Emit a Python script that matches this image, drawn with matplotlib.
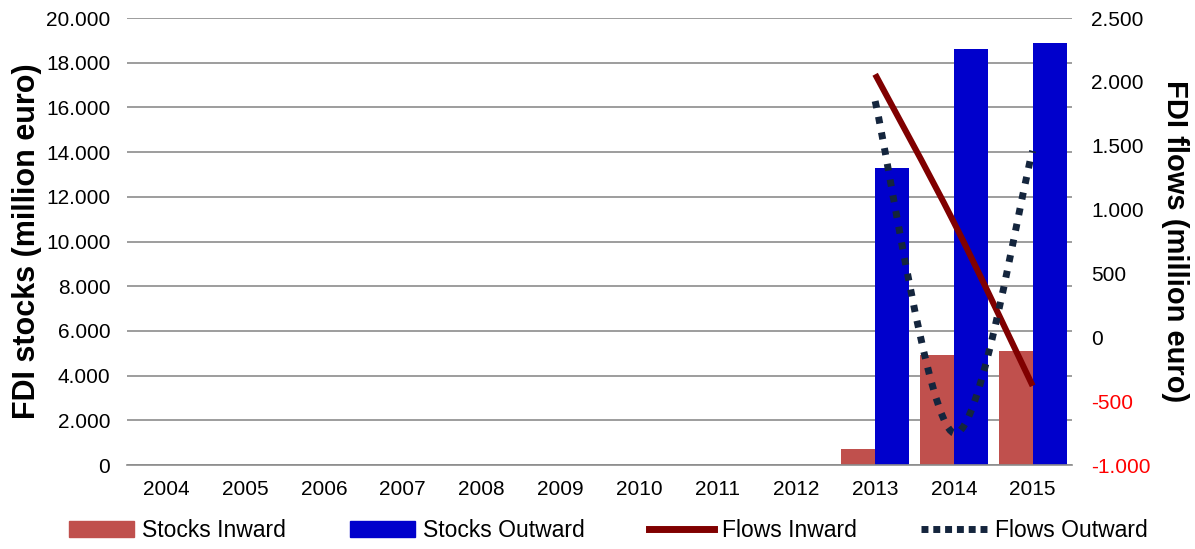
import matplotlib
matplotlib.use("Agg")
import matplotlib.pyplot as plt
from matplotlib.ticker import FuncFormatter
from matplotlib.patches import Patch, PathPatch
from matplotlib.path import Path
from matplotlib.lines import Line2D
import numpy as np

plt.rcParams['font.family'] = ['Liberation Sans', 'DejaVu Sans']

# data (million euro)
years = ['2004', '2005', '2006', '2007', '2008', '2009', '2010',
         '2011', '2012', '2013', '2014', '2015']
stocks_inward = [0, 0, 0, 0, 0, 0, 0, 0, 0, 720, 4920, 5100]
stocks_outward = [0, 0, 0, 0, 0, 0, 0, 0, 0, 13300, 18610, 18880]
flow_years = ['2013', '2014', '2015']
flows_inward = [2060, 900, -380]
flows_outward = [1850, -750, 1460]


def dotfmt(v, pos):
    return '{:,.0f}'.format(v).replace(',', '.')


def smooth_path(xs, ys):
    # spreadsheet-style smoothed line: cubic bezier through the points
    p = np.column_stack([xs, ys]).astype(float)
    n = len(p)
    verts = [p[0]]
    codes = [Path.MOVETO]
    for i in range(n - 1):
        a = p[i - 1] if i > 0 else p[i]
        d = p[i + 2] if i + 2 < n else p[i + 1]
        c1 = p[i] + (p[i + 1] - a) / 6.0
        c2 = p[i + 1] - (d - p[i]) / 6.0
        verts += [c1, c2, p[i + 1]]
        codes += [Path.CURVE4] * 3
    return Path(verts, codes)


fig = plt.figure(figsize=(11.95, 5.49), dpi=100)
ax = fig.add_axes([0.1063, 0.153, 0.7908, 0.814])

x = np.arange(len(years))
w = 0.43
ax.bar(x - w / 2, stocks_inward, w, color='#C0504D', zorder=2)
ax.bar(x + w / 2, stocks_outward, w, color='#0000CC', zorder=2)

ax.set_xlim(-0.5, len(years) - 0.5)
ax.set_ylim(0, 20000)
ax.set_yticks(np.arange(0, 20001, 2000))
ax.yaxis.set_major_formatter(FuncFormatter(dotfmt))
ax.set_xticks(x)
ax.set_xticklabels(years)
ax.grid(axis='y', color='#8C8C8C', lw=1.2, zorder=0)
for s in ['top', 'left', 'right']:
    ax.spines[s].set_visible(False)
ax.spines['bottom'].set_color('#8C8C8C')
ax.spines['bottom'].set_linewidth(1.2)
ax.tick_params(axis='both', length=0, labelsize=15)
ax.tick_params(axis='y', pad=12)
ax.tick_params(axis='x', pad=11)
ax.set_ylabel('FDI stocks (million euro)', fontsize=22, fontweight='bold', va='center')
ax.yaxis.set_label_coords(-0.106, 0.5)

ax2 = ax.twinx()
fx = [years.index(y) for y in flow_years]
ax2.add_patch(PathPatch(smooth_path(fx, flows_inward), fill=False,
                        edgecolor='#800000', lw=4.4, capstyle='butt', zorder=3))
ax2.add_patch(PathPatch(smooth_path(fx, flows_outward), fill=False,
                        edgecolor='#14253D', lw=5, linestyle=(0, (1.0, 1.3)),
                        capstyle='butt', zorder=3))
ax2.set_ylim(-1000, 2500)
ax2.set_yticks(np.arange(-1000, 2501, 500))
ax2.yaxis.set_major_formatter(FuncFormatter(dotfmt))
ax2.tick_params(axis='y', length=0, labelsize=15, pad=14)
for s in ax2.spines.values():
    s.set_visible(False)
ax2.set_ylabel('FDI flows (million euro)', fontsize=21, fontweight='bold',
               rotation=270, va='center')
ax2.yaxis.set_label_coords(1.109, 0.5)
fig.canvas.draw()
for t in ax2.get_yticklabels():
    if t.get_text().startswith('-') or t.get_text().startswith('\u2212'):
        t.set_color('red')

handles = [Patch(color='#C0504D'), Patch(color='#0000CC'),
           Line2D([], [], color='#800000', lw=5),
           Line2D([], [], color='#14253D', lw=5, linestyle=(0, (1.0, 0.7)))]
labels = ['Stocks Inward', 'Stocks Outward', 'Flows Inward', 'Flows Outward']
fig.legend(handles, labels, loc='center', ncol=4, frameon=False,
           fontsize=16.5, handlelength=2.84, columnspacing=2.8, handletextpad=0.35,
           bbox_to_anchor=(0.509, 0.033))

fig.savefig('out.png', dpi=100)
